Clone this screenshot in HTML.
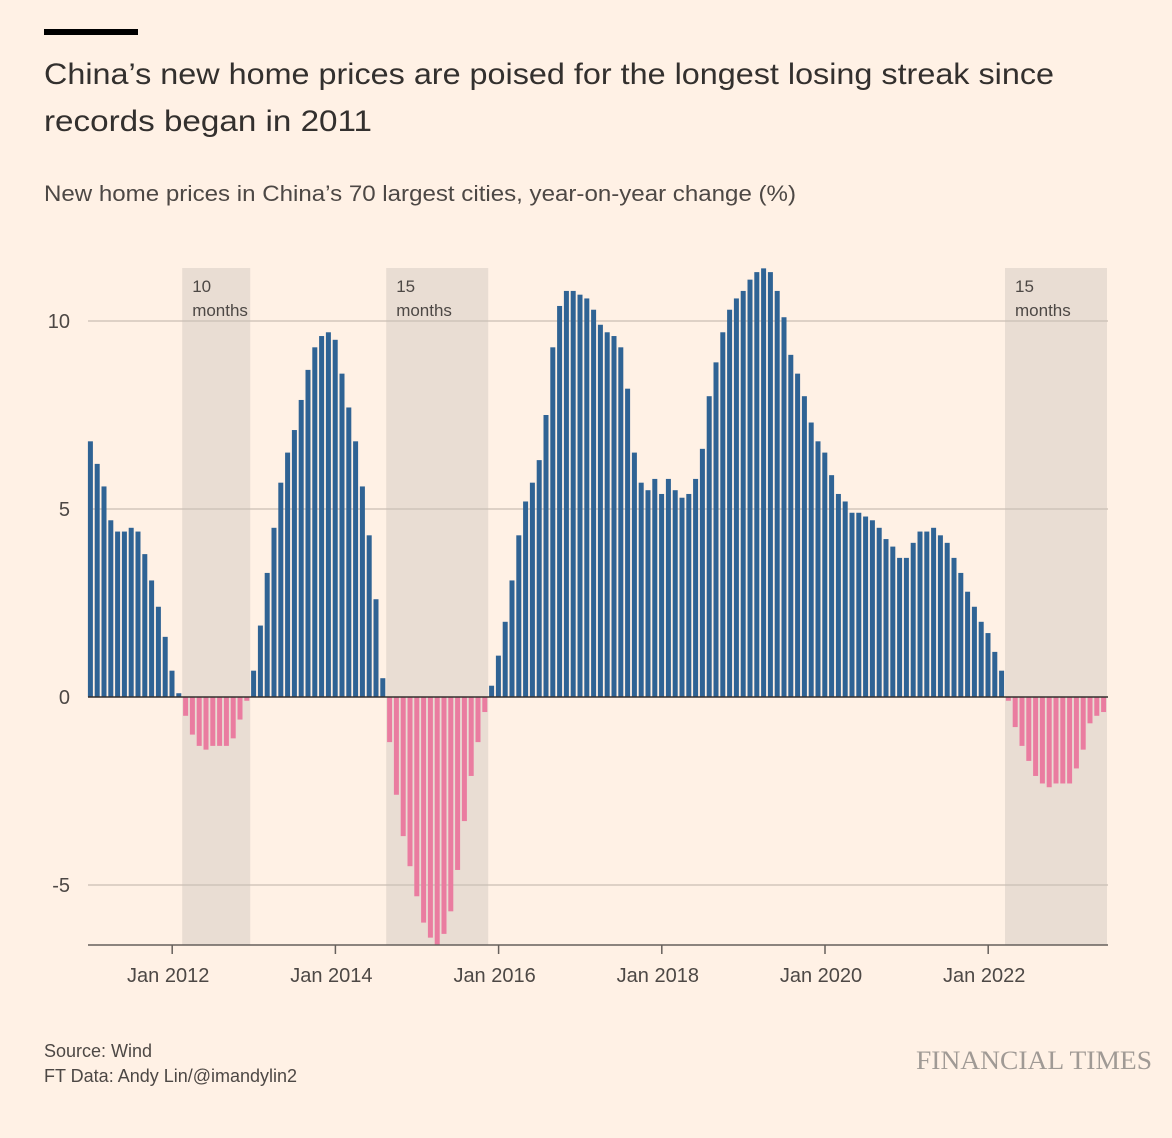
<!DOCTYPE html>
<html><head><meta charset="utf-8"><style>
html,body{margin:0;padding:0;background:#fff1e5;}
svg{display:block;font-family:"Liberation Sans",sans-serif;}
</style></head><body>
<svg id="chart" width="1172" height="1138" viewBox="0 0 1172 1138">
<rect x="0" y="0" width="1172" height="1138" fill="#fff1e5"/>
<rect x="44" y="29" width="94" height="6" fill="#000"/>
<text x="44" y="84" font-size="30" fill="#33302e" textLength="1010" lengthAdjust="spacingAndGlyphs">China’s new home prices are poised for the longest losing streak since</text>
<text x="44" y="131" font-size="30" fill="#33302e" textLength="328" lengthAdjust="spacingAndGlyphs">records began in 2011</text>
<text x="44" y="201" font-size="22" fill="#4d4845" textLength="752" lengthAdjust="spacingAndGlyphs">New home prices in China’s 70 largest cities, year-on-year change (%)</text>
<g id="shading"></g>
<g id="grid"></g>
<g id="bars"></g>
<g id="axis"></g>
<text x="44" y="1057" font-size="18" fill="#4d4845">Source: Wind</text>
<text x="44" y="1082" font-size="18" fill="#4d4845">FT Data: Andy Lin/@imandylin2</text>
<text x="1152" y="1069" font-size="26" fill="#a09a95" text-anchor="end" font-family="Liberation Serif, serif" textLength="236" lengthAdjust="spacingAndGlyphs">FINANCIAL TIMES</text>
</svg>
<script>
const startYear = 2011;
const values = [
6.8,6.2,5.6,4.7,4.4,4.4,4.5,4.4,3.8,3.1,2.4,1.6,
0.7,0.1,-0.5,-1.0,-1.3,-1.4,-1.3,-1.3,-1.3,-1.1,-0.6,-0.1,
0.7,1.9,3.3,4.5,5.7,6.5,7.1,7.9,8.7,9.3,9.6,9.7,
9.5,8.6,7.7,6.8,5.6,4.3,2.6,0.5,-1.2,-2.6,-3.7,-4.5,
-5.3,-6.0,-6.4,-6.6,-6.3,-5.7,-4.6,-3.3,-2.1,-1.2,-0.4,0.3,
1.1,2.0,3.1,4.3,5.2,5.7,6.3,7.5,9.3,10.4,10.8,10.8,
10.7,10.6,10.3,9.9,9.7,9.6,9.3,8.2,6.5,5.7,5.5,5.8,
5.4,5.8,5.5,5.3,5.4,5.8,6.6,8.0,8.9,9.7,10.3,10.6,
10.8,11.1,11.3,11.4,11.3,10.8,10.1,9.1,8.6,8.0,7.3,6.8,
6.5,5.9,5.4,5.2,4.9,4.9,4.8,4.7,4.5,4.2,4.0,3.7,
3.7,4.1,4.4,4.4,4.5,4.3,4.1,3.7,3.3,2.8,2.4,2.0,
1.7,1.2,0.7,-0.1,-0.8,-1.3,-1.7,-2.1,-2.3,-2.4,-2.3,-2.3,
-2.3,-1.9,-1.4,-0.7,-0.5,-0.4];
const yTicks = [-5,0,5,10];
const yTickLabels = ["-5","0","5","10"];
const xTickYears = [2012,2014,2016,2018,2020,2022];
const xTickLabels = ["Jan 2012","Jan 2014","Jan 2016","Jan 2018","Jan 2020","Jan 2022"];
const streakStart = [14,44,135];
const streakEnd = [23,58,149];
const streakLabels = ["10","15","15"];

const NS="http://www.w3.org/2000/svg";
const plotL=88, plotR=1108, plotTop=268, plotBottom=945;
const step=6.8, x0=90.4;
function xIdx(i){return x0+i*step;}
function y(v){return 697-v*37.6;}
function mk(tag,attrs,parent){const e=document.createElementNS(NS,tag);for(const k in attrs)e.setAttribute(k,attrs[k]);parent.appendChild(e);return e;}
const gS=document.getElementById('shading'),gG=document.getElementById('grid'),gB=document.getElementById('bars'),gA=document.getElementById('axis');

streakStart.forEach((s,k)=>{
  const xs=xIdx(s)-step/2, xe=Math.min(xIdx(streakEnd[k])+step/2,plotR);
  const r=mk('rect',{x:xs,y:plotTop,width:xe-xs,height:plotBottom-plotTop,fill:'#e9ddd3'},gS);
  
  
  const t1=mk('text',{x:xs+10,y:plotTop+24,'font-size':17,fill:'#4d4845'},gS);
  t1.textContent=streakLabels[k];
  
  
  const t2=mk('text',{x:xs+10,y:plotTop+48,'font-size':17,fill:'#4d4845'},gS);
  t2.textContent='months';
  
  
});

yTicks.forEach((v,k)=>{
  if(v!==0){
    const l=mk('line',{x1:plotL,x2:plotR,y1:y(v),y2:y(v),stroke:'#c9beb5','stroke-width':1.2},gG);
    
    
  }
  const t=mk('text',{x:70,y:y(v)+7,'font-size':20,fill:'#4d4845','text-anchor':'end'},gG);
  t.textContent=yTickLabels[k];
  
  
});

values.forEach((v,i)=>{
  const cx=xIdx(i), w=5;
  const top=Math.min(y(v),y(0)), h=Math.abs(y(v)-y(0));
  const r=mk('rect',{x:cx-w/2,y:top,width:w,height:h,fill:v>=0?'#2f6394':'#ea7ca0'},gB);
  
  
});

const zl=mk('line',{x1:plotL,x2:plotR,y1:y(0),y2:y(0),stroke:'#33302e','stroke-width':1.5},gA);


const ax=mk('line',{x1:plotL,x2:plotR,y1:plotBottom,y2:plotBottom,stroke:'#66605c','stroke-width':1.5},gA);


xTickYears.forEach((yr,k)=>{
  const xx=xIdx((yr-startYear)*12)-step/2+3.6;
  const tk=mk('line',{x1:xx,x2:xx,y1:plotBottom,y2:plotBottom+9,stroke:'#66605c','stroke-width':1.5},gA);
  
  
  const t=mk('text',{x:xx-4,y:plotBottom+37,'font-size':20,fill:'#4d4845','text-anchor':'middle'},gA);
  t.textContent=xTickLabels[k];
  
  
});
</script>
</body></html>
